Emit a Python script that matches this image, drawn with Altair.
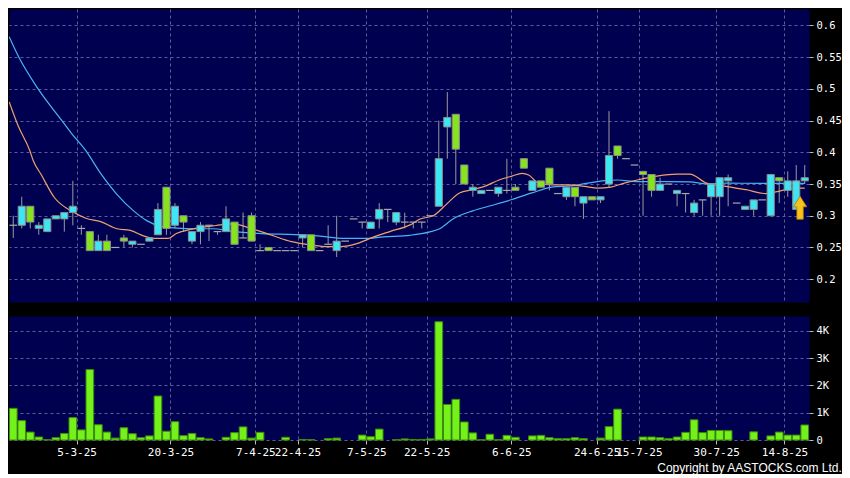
import altair as alt
import pandas as pd

# ---------------- data ----------------
opens = [0.285, 0.285, 0.315, 0.28, 0.275, 0.295, 0.295, 0.305, 0.28, 0.275,
         0.245, 0.26, 0.25, 0.265, 0.255, 0.255, 0.26, 0.27, 0.345, 0.285,
         0.30, 0.26, 0.275, 0.285, 0.275, 0.275, 0.29, 0.265, 0.30, 0.245,
         0.25, 0.245, 0.245, 0.245, 0.265, 0.27, 0.245, 0.255, 0.245, 0.26,
         0.295, 0.29, 0.28, 0.295, 0.31, 0.29, 0.29, 0.29, 0.29, 0.30,
         0.315, 0.44, 0.46, 0.38, 0.34, 0.335, 0.34, 0.335, 0.34, 0.345,
         0.39, 0.34, 0.355, 0.375, 0.335, 0.33, 0.345, 0.32, 0.33, 0.325,
         0.35, 0.41, 0.39, 0.38, 0.37, 0.365, 0.34, 0.35, 0.335, 0.335,
         0.305, 0.325, 0.33, 0.33, 0.355, 0.32, 0.31, 0.31, 0.325, 0.30,
         0.36, 0.34, 0.31, 0.355]
closes = [0.285, 0.315, 0.29, 0.285, 0.295, 0.30, 0.305, 0.315, 0.28, 0.245,
          0.26, 0.245, 0.25, 0.26, 0.26, 0.255, 0.265, 0.31, 0.28, 0.315,
          0.29, 0.275, 0.285, 0.285, 0.275, 0.295, 0.255, 0.265, 0.26, 0.245,
          0.245, 0.245, 0.245, 0.245, 0.27, 0.245, 0.245, 0.255, 0.26, 0.26,
          0.295, 0.29, 0.29, 0.31, 0.31, 0.305, 0.29, 0.29, 0.29, 0.30,
          0.39, 0.455, 0.405, 0.35, 0.345, 0.34, 0.34, 0.345, 0.34, 0.34,
          0.375, 0.355, 0.345, 0.35, 0.335, 0.345, 0.33, 0.33, 0.325, 0.33,
          0.395, 0.395, 0.39, 0.38, 0.365, 0.34, 0.35, 0.35, 0.34, 0.335,
          0.32, 0.325, 0.35, 0.36, 0.36, 0.32, 0.315, 0.325, 0.325, 0.365,
          0.355, 0.355, 0.355, 0.36]
highs = [0.30, 0.33, 0.315, 0.29, 0.295, 0.30, 0.305, 0.355, 0.285, 0.275,
         0.27, 0.27, 0.25, 0.27, 0.26, 0.255, 0.265, 0.32, 0.345, 0.32,
         0.30, 0.275, 0.29, 0.285, 0.275, 0.315, 0.29, 0.305, 0.305, 0.255,
         0.25, 0.245, 0.245, 0.245, 0.27, 0.27, 0.245, 0.285, 0.30, 0.26,
         0.295, 0.29, 0.29, 0.32, 0.31, 0.305, 0.305, 0.29, 0.29, 0.30,
         0.45, 0.495, 0.46, 0.38, 0.35, 0.34, 0.34, 0.345, 0.39, 0.35,
         0.39, 0.355, 0.355, 0.375, 0.335, 0.345, 0.345, 0.33, 0.33, 0.33,
         0.465, 0.41, 0.39, 0.38, 0.37, 0.365, 0.36, 0.35, 0.34, 0.335,
         0.325, 0.325, 0.35, 0.36, 0.365, 0.32, 0.315, 0.325, 0.325, 0.365,
         0.36, 0.37, 0.38, 0.38]
lows = [0.265, 0.28, 0.28, 0.27, 0.275, 0.295, 0.275, 0.285, 0.27, 0.245,
        0.245, 0.245, 0.25, 0.25, 0.25, 0.255, 0.26, 0.27, 0.27, 0.28,
        0.275, 0.255, 0.255, 0.26, 0.27, 0.275, 0.255, 0.265, 0.26, 0.245,
        0.245, 0.245, 0.245, 0.245, 0.25, 0.245, 0.245, 0.255, 0.235, 0.26,
        0.295, 0.28, 0.28, 0.28, 0.29, 0.285, 0.28, 0.28, 0.28, 0.30,
        0.315, 0.39, 0.35, 0.35, 0.33, 0.335, 0.34, 0.33, 0.335, 0.34,
        0.375, 0.34, 0.345, 0.34, 0.335, 0.325, 0.315, 0.295, 0.325, 0.32,
        0.345, 0.39, 0.39, 0.38, 0.30, 0.33, 0.34, 0.35, 0.315, 0.305,
        0.30, 0.30, 0.30, 0.30, 0.315, 0.32, 0.31, 0.30, 0.325, 0.30,
        0.32, 0.33, 0.31, 0.35]
volumes_k = [1.16, 0.71, 0.29, 0.11, 0.01, 0.085, 0.24, 0.82, 0.37, 2.58,
             0.56, 0.29, 0.07, 0.45, 0.23, 0.085, 0.15, 1.61, 0.32, 0.67,
             0.16, 0.24, 0.085, 0.04, 0.0, 0.10, 0.27, 0.48, 0.07, 0.28,
             0.0, 0.0, 0.10, 0.0, 0.02, 0.01, 0.0, 0.05, 0.07, 0.0,
             0.0, 0.18, 0.12, 0.40, 0.0, 0.01, 0.04, 0.02, 0.02, 0.04,
             4.33, 1.30, 1.49, 0.66, 0.26, 0.01, 0.21, 0.01, 0.17, 0.10,
             0.0, 0.15, 0.17, 0.085, 0.05, 0.05, 0.085, 0.05, 0.0, 0.07,
             0.49, 1.13, 0.0, 0.0, 0.11, 0.11, 0.085, 0.05, 0.11, 0.28,
             0.74, 0.27, 0.35, 0.35, 0.34, 0.0, 0.0, 0.30, 0.0, 0.15,
             0.29, 0.18, 0.18, 0.55]

tick_pos = [7.44, 18.47, 28.45, 33.40, 41.49, 48.57, 58.53, 68.55, 73.51, 82.60, 90.62]
tick_labels = ["5-3-25", "20-3-25", "7-4-25", "22-4-25", "7-5-25", "22-5-25",
               "6-6-25", "24-6-25", "15-7-25", "30-7-25", "14-8-25"]

price_ticks = [0.2, 0.25, 0.3, 0.35, 0.4, 0.45, 0.5, 0.55, 0.6]
vol_ticks = [0, 1, 2, 3, 4]

# short moving average (orange)
ma_fast_idx = [-0.48, 0.6, 1.95, 2.34, 3.31, 4.85, 6.79, 8.53, 10.27, 12.2,
               13.76, 15.3, 16.84, 18.2, 19.16, 20.72, 22.26, 23.81, 25.74, 28.06,
               30.39, 32.71, 35.03, 36.97, 38.51, 40.45, 42.38, 44.31, 46.63, 47.79,
               49.34, 50.89, 52.43, 53.98, 55.53, 57.08, 58.62, 59.78, 60.56, 61.72,
               63.26, 65.2, 67.13, 68.68, 70.22, 71.78, 73.32, 75.64, 77.96, 79.51,
               81.45, 83.77, 86.09, 88.41, 89.95, 91.88, 93.0]
ma_fast_val = [0.4796, 0.4411, 0.4026, 0.3872, 0.3642, 0.3284, 0.3077, 0.296, 0.2908, 0.2795,
               0.2769, 0.2683, 0.2642, 0.2642, 0.2719, 0.278, 0.2821, 0.2846, 0.2872, 0.2795,
               0.2692, 0.2591, 0.2538, 0.2513, 0.2513, 0.2564, 0.2667, 0.2754, 0.2856, 0.2949,
               0.2999, 0.318, 0.336, 0.3411, 0.3472, 0.3564, 0.3626, 0.3667, 0.3642, 0.3514,
               0.3488, 0.3488, 0.3462, 0.3436, 0.3452, 0.3514, 0.3564, 0.3626, 0.3657, 0.3657,
               0.3514, 0.3462, 0.3411, 0.335, 0.3385, 0.3436, 0.3436]

# long moving average (blue)
ma_slow_idx = [-0.48, 0.6, 2.92, 5.63, 6.79, 8.53, 10.27, 12.2, 14.14, 15.68,
               17.24, 19.16, 21.48, 23.42, 25.74, 29.22, 33.09, 35.8, 38.89, 41.21,
               43.53, 46.63, 48.95, 50.11, 51.66, 53.98, 56.3, 58.62, 60.94, 63.26,
               65.58, 67.9, 69.46, 71.0, 73.3, 76.8, 79.51, 81.45, 83.77, 88.41, 93.0]
ma_slow_val = [0.5822, 0.5514, 0.5, 0.4514, 0.4308, 0.4026, 0.3667, 0.3334, 0.3077, 0.2923,
               0.2837, 0.2806, 0.2795, 0.2795, 0.2754, 0.2719, 0.2703, 0.2683, 0.2642, 0.2642,
               0.2667, 0.2692, 0.2745, 0.2795, 0.2949, 0.3077, 0.3165, 0.3257, 0.336, 0.3452,
               0.3472, 0.3523, 0.3553, 0.3564, 0.3538, 0.3538, 0.3535, 0.3503, 0.3514, 0.351, 0.351]

arrow_idx = [92.45]
arrow_price = [0.3126]

# ---------------- styling ----------------
W = 800
H_PRICE = 293
H_VOL = 124
NAVY = "#000050"
CYAN = "#3EE6F4"
LIME = "#86E41E"
VOLGREEN = "#74F01A"
GRAY = "#9A9A9A"
GRID = "#5C5C96"

n = len(opens)
df = pd.DataFrame({"i": list(range(n)), "open": opens, "high": highs,
                   "low": lows, "close": closes, "vol": volumes_k})
df["dir"] = ["up" if c > o else ("down" if c < o else "flat") for o, c in zip(opens, closes)]

fast_df = pd.DataFrame({"i": ma_fast_idx, "v": ma_fast_val})
slow_df = pd.DataFrame({"i": ma_slow_idx, "v": ma_slow_val})
arrow_df = pd.DataFrame({"i": arrow_idx, "v": arrow_price})

xscale = alt.Scale(domain=[-0.5, n - 0.5], nice=False, zero=False)
pscale = alt.Scale(domain=[0.164, 0.626], nice=False, zero=False)
vscale = alt.Scale(domain=[0, 4.54], nice=False)

px_axis = alt.Axis(values=tick_pos, labels=False, ticks=False, domain=False, grid=True)
py_axis = alt.Axis(orient="right", values=price_ticks, format=".2~f", grid=True,
                   tickSize=4, labelPadding=3, labelFontSize=10.5, domain=False)

labels_js = "[" + ",".join("'%s'" % s for s in tick_labels) + "]"
pos_js = "[" + ",".join(str(p) for p in tick_pos) + "]"
vx_axis = alt.Axis(values=tick_pos, labelExpr=labels_js + "[indexof(" + pos_js + ", datum.value)]",
                   grid=True, ticks=True, tickSize=4, labelOverlap=False, labelFlush=False,
                   domain=False, labelFontSize=11, labelPadding=2)
vy_axis = alt.Axis(orient="right", values=vol_ticks,
                   labelExpr="datum.value == 0 ? '0' : datum.value + 'K'",
                   grid=True, tickSize=4, labelPadding=3, labelFontSize=10.5, domain=False)

base = alt.Chart(df)

wicks = base.transform_filter("datum.high > datum.low").mark_rule(
    color=GRAY, strokeWidth=1
).encode(
    x=alt.X("i:Q", scale=xscale, axis=px_axis, title=None),
    y=alt.Y("low:Q", scale=pscale, axis=py_axis, title=None),
    y2="high:Q",
)

bodies = base.transform_filter("datum.dir != 'flat'").transform_calculate(
    xa="datum.i - 0.42", xb="datum.i + 0.42"
).mark_bar(stroke="#8C8C8C", strokeWidth=1).encode(
    x=alt.X("xa:Q", scale=xscale, axis=px_axis, title=None),
    x2="xb:Q",
    y=alt.Y("open:Q", scale=pscale, axis=py_axis, title=None),
    y2="close:Q",
    fill=alt.Fill("dir:N", scale=alt.Scale(domain=["up", "down"], range=[CYAN, LIME]), legend=None),
)

dashes = base.transform_filter("datum.dir == 'flat'").transform_calculate(
    xa="datum.i - 0.45", xb="datum.i + 0.45"
).mark_rule(color="#A8A8A8", strokeWidth=1.2).encode(
    x=alt.X("xa:Q", scale=xscale, axis=px_axis, title=None),
    x2="xb:Q",
    y=alt.Y("open:Q", scale=pscale, axis=py_axis, title=None),
)

fast_line = alt.Chart(fast_df).mark_line(color="#F0A070", strokeWidth=1.2, clip=True,
                                         interpolate="monotone").encode(
    x=alt.X("i:Q", scale=xscale, axis=px_axis, title=None),
    y=alt.Y("v:Q", scale=pscale, axis=py_axis, title=None),
)
slow_line = alt.Chart(slow_df).mark_line(color="#4AB4F2", strokeWidth=1.2, clip=True,
                                         interpolate="monotone").encode(
    x=alt.X("i:Q", scale=xscale, axis=px_axis, title=None),
    y=alt.Y("v:Q", scale=pscale, axis=py_axis, title=None),
)

arrow_path = "M0,-1L0.58,-0.08L0.28,-0.08L0.28,1L-0.28,1L-0.28,-0.08L-0.58,-0.08Z"
arrow = alt.Chart(arrow_df).mark_point(
    shape=arrow_path, filled=True, size=529, fill="#F6C21C", stroke="#B87A00",
    strokeWidth=0.8, opacity=1
).encode(
    x=alt.X("i:Q", scale=xscale, axis=px_axis, title=None),
    y=alt.Y("v:Q", scale=pscale, axis=py_axis, title=None),
)

price = alt.layer(wicks, slow_line, fast_line, bodies, dashes, arrow).properties(
    width=W, height=H_PRICE
)

volume = base.transform_filter("datum.vol > 0").transform_calculate(
    xa="datum.i - 0.45", xb="datum.i + 0.45"
).mark_bar(fill=VOLGREEN, stroke="#3C8C08", strokeWidth=1).encode(
    x=alt.X("xa:Q", scale=xscale, axis=vx_axis, title=None),
    x2="xb:Q",
    y=alt.Y("vol:Q", scale=vscale, axis=vy_axis, title=None),
    y2=alt.datum(0),
).properties(width=W, height=H_VOL)

chart = alt.vconcat(price, volume, spacing=12).properties(
    padding={"left": 0, "top": 0, "right": 0, "bottom": 0},
    title=alt.TitleParams(
        "Copyright by AASTOCKS.com Ltd.", orient="bottom", anchor="end", frame="bounds",
        color="#FFFFFF", fontSize=12, font="Liberation Sans", fontWeight="normal", offset=5
    ),
).configure(background="#000000").configure_view(
    fill=NAVY, stroke="transparent"
).configure_axis(
    gridColor=GRID, gridDash=[3, 3], gridWidth=1, labelColor="#FFFFFF",
    tickColor="#BBBBBB", labelFont="DejaVu Sans Mono"
)

chart.save("out.html", embed_options={"renderer": "svg", "actions": False})
